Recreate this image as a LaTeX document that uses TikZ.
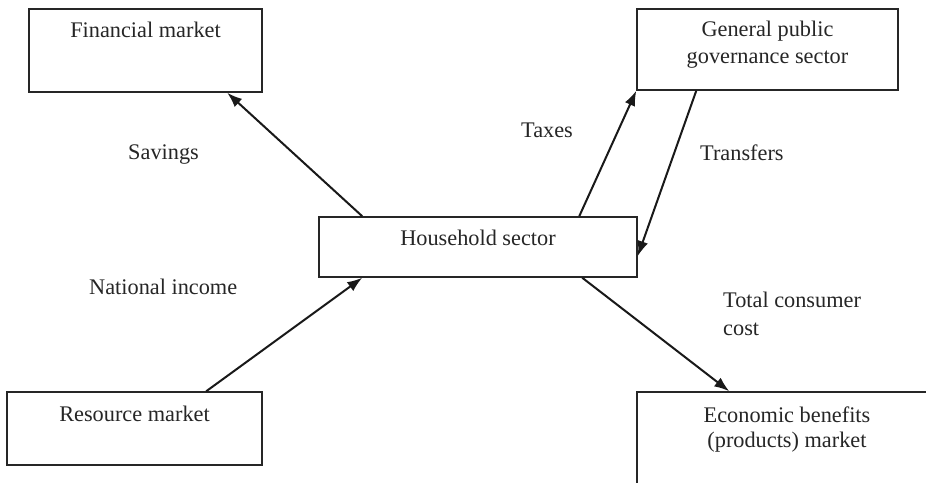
\documentclass[tikz,border=0pt]{standalone}
\usepackage{fontspec}
\setmainfont{Liberation Serif}
\usetikzlibrary{arrows.meta}

\begin{document}
\begin{tikzpicture}[
        x=1pt, y=-1pt,
        font=\fontsize{22.3}{27}\selectfont,
        sector_box/.style={draw=black!85, line width=1.5pt, inner sep=0pt},
        sector_text/.style={anchor=north, inner sep=0pt, yshift=-13.5pt, align=center, text=black!85},
        flow_label/.style={anchor=base west, inner sep=0pt, text=black!85},
        flow_arrow/.style={draw=black!90, line width=2pt, -{Latex[length=15pt, width=11pt]}}
    ]
        \clip (0, 0) rectangle (926, 482);
        \fill[white] (0, 0) rectangle (926, 482);

        \node (financial_market) at (145.5, 50.5) [
            sector_box,
            minimum width=233pt,
            minimum height=83pt,
            label={[sector_text]north:Financial market}
        ] {};
        \node (public_sector) at (767.5, 49.5) [
            sector_box,
            minimum width=261pt,
            minimum height=81pt,
            label={[sector_text, yshift=1pt]north:General public\\governance sector}
        ] {};
        \node (household_sector) at (478, 247) [
            sector_box,
            minimum width=318pt,
            minimum height=60pt,
            label={[sector_text]north:Household sector}
        ] {};
        \node (resource_market) at (134.5, 428.5) [
            sector_box,
            minimum width=255pt,
            minimum height=73pt,
            label={[sector_text, yshift=-1pt]north:Resource market}
        ] {};
        \node (products_market) at (787, 446) [
            sector_box,
            minimum width=300pt,
            minimum height=108pt,
            label={[sector_text, yshift=-2pt, font=\fontsize{22.3}{25}\selectfont]north:Economic benefits\\(products) market}
        ] {};

        % flows between the sectors
        \draw[flow_arrow] ([xshift=44pt]household_sector.north west) -- ([xshift=199pt]financial_market.south west);
        \draw[flow_arrow] ([xshift=261pt]household_sector.north west) -- (public_sector.south west);
        \draw[flow_arrow] ([xshift=60pt]public_sector.south west) -- ([yshift=-9pt]household_sector.east);
        \draw[flow_arrow] ([xshift=200pt]resource_market.north west) -- ([xshift=44pt]household_sector.south west);
        \draw[flow_arrow] ([xshift=264pt]household_sector.south west) -- ([xshift=93pt]products_market.north west);

        \node (savings) at (128, 159) [flow_label] {Savings};
        \node (taxes) at (521, 137) [flow_label] {Taxes};
        \node (transfers) at (700, 160) [flow_label] {Transfers};
        \node (national_income) at (89, 294) [flow_label] {National income};
        \node (consumer_cost) at (723, 307) [flow_label] {Total consumer};
        \node (consumer_cost_2) at (723, 335) [flow_label] {cost};
    \end{tikzpicture}
\end{document}
